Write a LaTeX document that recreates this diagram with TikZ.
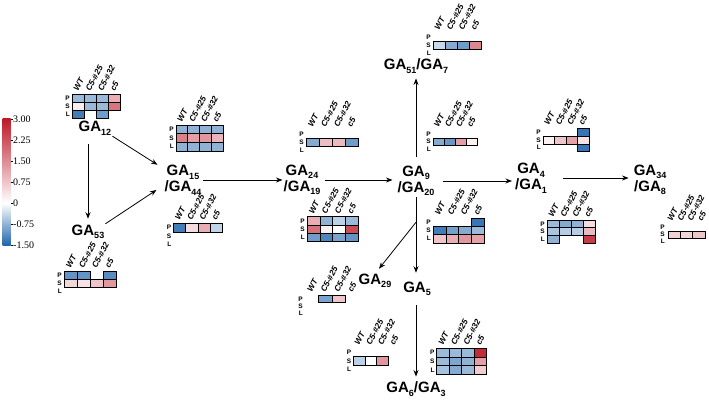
\documentclass[tikz,border=0pt]{standalone}
\usepackage{fontspec}
\setmainfont{Liberation Serif}
\setsansfont{Liberation Sans}
\usetikzlibrary{arrows.meta}
\definecolor{bl}{RGB}{33,102,172}
\definecolor{rd}{RGB}{190,25,40}
\newcommand{\ga}[1]{GA\raisebox{-0.45ex}{\fontsize{9}{9}\selectfont #1}}
\newcommand{\hmcells}[5]{\foreach \rr/\cc/\col in {#5}{\filldraw[cell,fill=\col] ({#1+\cc*#3},{#2+\rr*#4}) rectangle ++(#3,#4);}}
\newcommand{\hmlabels}[4]{%
  \node[rowlab] at ({#1-2},{#2+0.5*#4}) {P};
  \node[rowlab] at ({#1-2},{#2+1.5*#4}) {S};
  \node[rowlab] at ({#1-2},{#2+2.5*#4}) {L};
  \foreach \cc/\tx in {0/WT,1/C5-\#25,2/C5-\#32,3/c5}{\node[collab] at ({#1+(\cc+0.5)*#3},{#2-2.5}) {\tx};}%
}
\begin{document}
\begin{tikzpicture}[x=1pt,y=-1pt,
  ga/.style={font=\sffamily\bfseries\fontsize{15}{16}\selectfont,align=center,inner sep=1pt},
  cell/.style={draw=black,line width=0.7pt},
  rowlab/.style={font=\sffamily\bfseries\fontsize{6.5}{6.5}\selectfont,anchor=east,inner sep=0pt},
  collab/.style={font=\sffamily\bfseries\itshape\fontsize{8.3}{8.3}\selectfont,rotate=62,anchor=base west,inner sep=0pt},
  cbl/.style={font=\fontsize{10}{10}\selectfont,anchor=west,inner sep=0.5pt},
  arr/.style={-{Stealth[length=6.5pt,width=5pt]},line width=0.8pt}]
\useasboundingbox (0,0) rectangle (709,401);
% colour bar
\shade[top color=rd,bottom color=white] (2.5,119) rectangle (10.5,203);
\shade[top color=white,bottom color=bl] (2.5,203) rectangle (10.5,245);
\foreach \yy/\lab in {119/3.00,140/2.25,161/1.50,182/0.75,203/0,224/-0.75,245/-1.50}{
  \draw[line width=0.5pt] (10.5,\yy) -- (12.5,\yy);
  \node[cbl] at (12.5,\yy) {\lab};}
% nodes
\node[ga] (ga12) at (95,128) {\ga{12}};
\node[ga] (ga53) at (88,232) {\ga{53}};
\node[ga] (ga15) at (183,180) {\ga{15}\\/\ga{44}};
\node[ga] (ga24) at (302,180) {\ga{24}\\/\ga{19}};
\node[ga] (ga9) at (416,181) {\ga{9}\\/\ga{20}};
\node[ga] (ga4) at (531,178) {\ga{4}\\/\ga{1}};
\node[ga] (ga34) at (650,180) {\ga{34}\\/\ga{8}};
\node[ga] (ga51) at (416,66) {\ga{51}/\ga{7}};
\node[ga] (ga29) at (375,281) {\ga{29}};
\node[ga] (ga5) at (417,289) {\ga{5}};
\node[ga] (ga63) at (416,389) {\ga{6}/\ga{3}};
% connectors
\draw[arr] (ga12.south east) -- ([xshift=-6pt,yshift=-1pt]ga15.north west);
\draw[arr,shorten <=8pt,shorten >=5pt] (ga12.south -| ga53.north) -- (ga53.north);
\draw[arr] (ga53.north east) -- ([xshift=-7pt,yshift=-10pt]ga15.west);
\draw[arr] (ga15.east) -- (ga15.east -| ga24.west);
\draw[arr,shorten <=3pt,shorten >=4pt] (ga24.east) -- (ga24.east -| ga9.west);
\draw[arr,shorten <=7pt,shorten >=2pt] (ga9.east) -- (ga9.east -| ga4.west);
\draw[arr,shorten <=15pt,shorten >=4pt] (ga4.east) -- (ga4.east -| ga34.west);
\draw[arr,shorten <=8pt,shorten >=4pt] (ga9.north) -- (ga51.south);
\draw[arr,shorten >=8pt] (ga9.south) -- (ga9.south |- ga5.north);
\draw[arr] ([yshift=-25pt]ga9.south) -- ([xshift=4pt,yshift=4pt]ga29.north);
\draw[arr,shorten <=8pt,shorten >=4pt] (ga9.south |- ga5.south) -- (ga9.south |- ga63.north);
% heatmaps
\hmcells{72}{94.5}{12.2}{7.8}{0/0/bl!45,0/1/bl!45,0/2/bl!45,0/3/rd!35,1/0/rd!8,1/1/bl!45,1/2/bl!45,1/3/rd!60,2/0/bl!85,2/2/bl!65}
\hmlabels{72}{94.5}{12.2}{7.8}
\hmcells{176}{125}{11.8}{8.7}{0/0/bl!50,0/1/bl!50,0/2/bl!50,0/3/bl!50,1/0/rd!55,1/1/rd!42,1/2/rd!45,1/3/rd!32,2/0/bl!50,2/1/bl!50,2/2/bl!50,2/3/bl!50}
\hmlabels{176}{125}{11.8}{8.7}
\hmcells{173.5}{223.5}{12.2}{8.4}{0/0/bl!85,0/1/rd!15,0/2/rd!35,0/3/bl!28}
\hmlabels{173.5}{223.5}{12.2}{8.4}
\hmcells{64}{271.5}{13}{7.8}{0/0/bl!70,0/1/bl!70,0/3/bl!75,1/0/rd!18,1/1/rd!12,1/2/rd!25,1/3/rd!45}
\hmlabels{64}{271.5}{13}{7.8}
\hmcells{306}{130.5}{13}{7.8}{1/0/bl!55,1/1/rd!28,1/2/rd!30,1/3/bl!65}
\hmlabels{306}{130.5}{13}{7.8}
\hmcells{307}{216.7}{12.9}{8.3}{0/0/rd!35,0/1/bl!50,0/2/bl!30,0/3/bl!45,1/0/rd!62,1/1/rd!6,1/2/white,1/3/rd!78,2/0/bl!65,2/1/bl!80,2/2/bl!60,2/3/bl!70}
\hmlabels{307}{216.7}{12.9}{8.3}
\hmcells{433}{130.5}{11}{7.5}{1/0/bl!55,1/1/bl!68,1/2/rd!42,1/3/rd!6}
\hmlabels{433}{130.5}{11}{7.5}
\hmcells{433}{218}{12.9}{8.3}{0/3/bl!90,1/0/bl!85,1/1/bl!62,1/2/bl!55,1/3/bl!45,2/0/rd!25,2/1/rd!35,2/2/rd!45,2/3/rd!40}
\hmlabels{433}{218}{12.9}{8.3}
\hmcells{433}{33}{12.1}{8}{1/0/bl!25,1/1/bl!55,1/2/bl!65,1/3/rd!52}
\hmlabels{433}{33}{12.1}{8}
\hmcells{543}{128.5}{11.5}{7.7}{0/3/bl!90,1/0/rd!6,1/1/rd!25,1/2/rd!40,1/3/rd!12,2/3/bl!90}
\hmlabels{543}{128.5}{11.5}{7.7}
\hmcells{547}{220}{12}{7.7}{0/0/bl!45,0/1/bl!55,0/2/bl!50,0/3/rd!15,1/0/bl!38,1/1/bl!33,1/2/bl!33,1/3/rd!30,2/0/bl!50,2/3/rd!85}
\hmlabels{547}{220}{12}{7.7}
\hmcells{668}{224}{12.3}{7}{1/0/rd!20,1/1/rd!18,1/2/rd!25}
\hmlabels{667}{224}{10}{7}
\hmcells{305}{295.5}{13.5}{7}{0/1/bl!60,0/2/rd!25}
\hmlabels{305}{295.5}{13.5}{7}
\hmcells{353.3}{348.4}{11.7}{8.3}{1/0/bl!30,1/1/white,1/2/rd!45}
\hmlabels{353.3}{348.4}{11.7}{8.3}
\hmcells{436.7}{348.3}{12.5}{8.6}{0/0/bl!45,0/1/bl!45,0/2/bl!45,0/3/rd!92,1/0/bl!45,1/1/bl!58,1/2/bl!50,1/3/rd!42,2/0/bl!40,2/1/bl!55,2/2/bl!45,2/3/rd!22}
\hmlabels{436.7}{348.3}{12.5}{8.6}
\end{tikzpicture}
\end{document}
